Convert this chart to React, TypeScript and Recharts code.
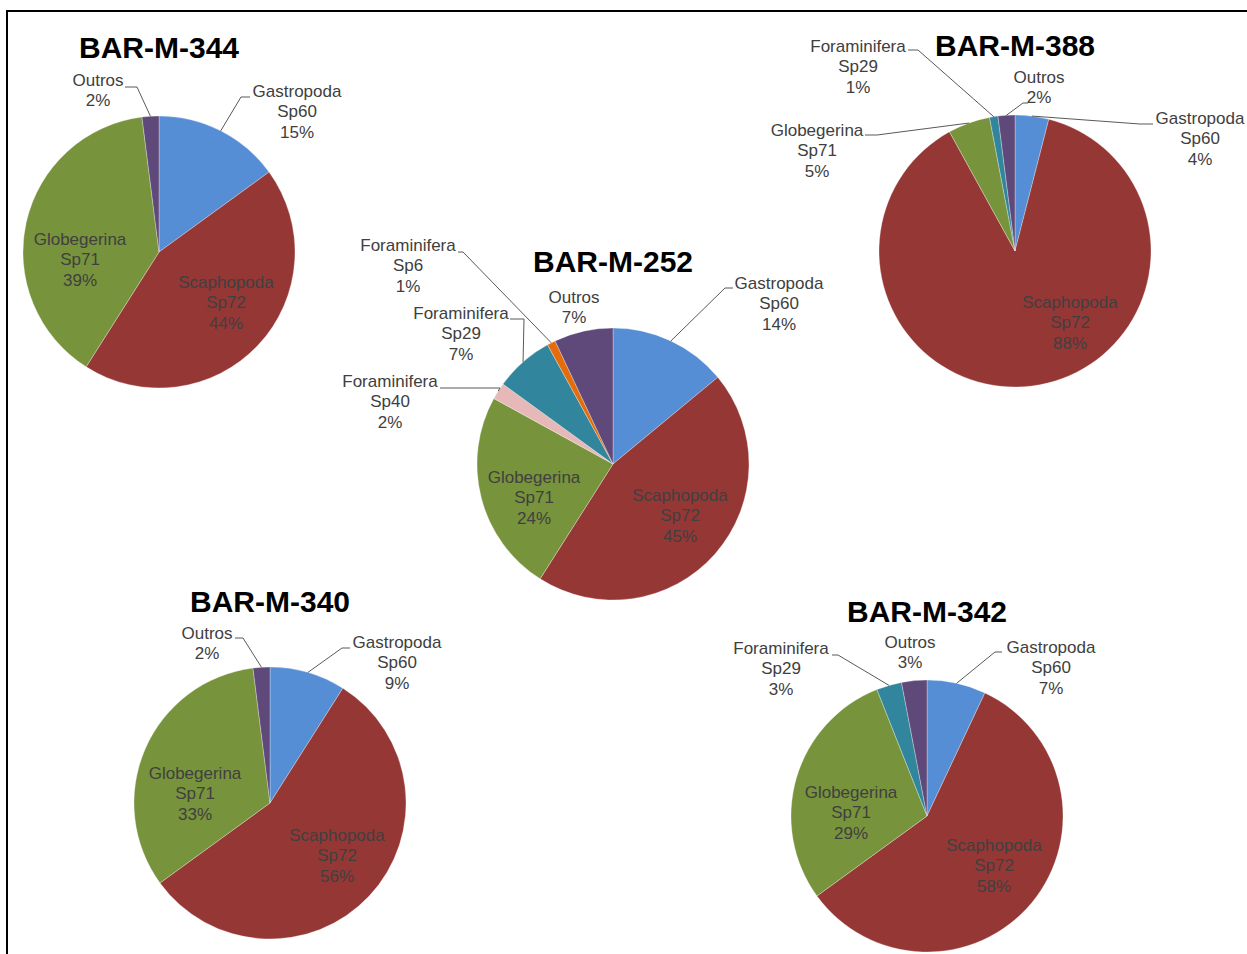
import { PieChart, Pie, Cell } from 'recharts';

// Taxa shared by every station, in clockwise order from 12 o'clock
const taxa = ['Gastropoda', 'Scaphopoda', 'Globegerina', 'Foraminifera', 'Foraminifera', 'Foraminifera', 'Outros'];
const species = ['Sp60', 'Sp72', 'Sp71', 'Sp40', 'Sp29', 'Sp6', ''];
const taxonColors = ['#558ED5', '#953735', '#77933C', '#E6B9B8', '#31859C', '#E46C0A', '#5F497A'];

// Percent composition per station (0 = taxon absent)
const m344 = [15, 44, 39, 0, 0, 0, 2];
const m252 = [14, 45, 24, 2, 7, 1, 7];
const m388 = [4, 88, 5, 0, 1, 0, 2];
const m340 = [9, 56, 33, 0, 0, 0, 2];
const m342 = [7, 58, 29, 0, 3, 0, 3];

const stations = ['BAR-M-344', 'BAR-M-252', 'BAR-M-388', 'BAR-M-340', 'BAR-M-342'];

type Spot = { x: number; y: number; lead?: [number, number][] };

// label block offsets from the pie centre; lead = leader line points before it hits the slice
const spots344: Record<number, Spot> = {
  0: { x: 138, y: -161, lead: [[91, -155], [82, -155]] },
  1: { x: 67, y: 30 },
  2: { x: -79, y: -13 },
  6: { x: -61, y: -172, lead: [[-34, -165], [-22, -165]] },
};
const spots252: Record<number, Spot> = {
  0: { x: 166, y: -181, lead: [[120, -176], [112, -176]] },
  1: { x: 67, y: 31 },
  2: { x: -79, y: 13 },
  3: { x: -223, y: -83, lead: [[-173, -76], [-113, -76]] },
  4: { x: -152, y: -151, lead: [[-103, -145], [-89, -145]] },
  5: { x: -205, y: -219, lead: [[-155, -212], [-150, -212]] },
  6: { x: -39, y: -167 },
};
const spots388: Record<number, Spot> = {
  0: { x: 185, y: -133, lead: [[138, -127], [125, -127]] },
  1: { x: 55, y: 51 },
  2: { x: -198, y: -121, lead: [[-150, -116], [-138, -116]] },
  4: { x: -157, y: -205, lead: [[-107, -201], [-97, -201]] },
  6: { x: 24, y: -174, lead: [[13, -148], [8, -148]] },
};
const spots340: Record<number, Spot> = {
  0: { x: 127, y: -161, lead: [[80, -155], [72, -155]] },
  1: { x: 67, y: 32 },
  2: { x: -75, y: -30 },
  6: { x: -63, y: -170, lead: [[-35, -165], [-27, -165]] },
};
const spots342: Record<number, Spot> = {
  0: { x: 124, y: -169, lead: [[75, -164], [68, -164]] },
  1: { x: 67, y: 29 },
  2: { x: -76, y: -24 },
  4: { x: -146, y: -168, lead: [[-95, -161], [-89, -161]] },
  6: { x: -17, y: -174 },
};

const FONT = '"Liberation Sans", Arial, sans-serif';
const RAD = Math.PI / 180;

const toRows = (values: number[]) =>
  values
    .map((value, i) => ({ name: taxa[i], species: species[i], value, taxon: i }))
    .filter((d) => d.value > 0);

function makeLabel(spots: Record<number, Spot>) {
  return (props: any) => {
    const { cx, cy, midAngle, outerRadius } = props;
    const entry = props.payload && props.payload.taxon !== undefined ? props.payload : props;
    const spot = spots[entry.taxon];
    if (!spot) return null;
    const tx = cx + spot.x;
    const ty = cy + spot.y + 5.5;
    const lines = [entry.name, entry.species, `${entry.value}%`].filter(Boolean);
    let leader = null;
    if (spot.lead) {
      const ax = cx + outerRadius * Math.cos(-midAngle * RAD);
      const ay = cy + outerRadius * Math.sin(-midAngle * RAD);
      const pts = [...spot.lead.map(([px, py]) => `${cx + px},${cy + py}`), `${ax},${ay}`].join(' ');
      leader = <polyline points={pts} fill="none" stroke="#595959" strokeWidth={1} />;
    }
    return (
      <g>
        {leader}
        <text x={tx} y={ty} textAnchor="middle" fontSize={17} fontFamily={FONT} fill="#404040">
          {lines.map((l: string, i: number) => (
            <tspan key={i} x={tx} dy={i === 0 ? 0 : 20.6}>
              {l}
            </tspan>
          ))}
        </text>
      </g>
    );
  };
}

const pies = [
  { rows: toRows(m344), spots: spots344, cx: 159, cy: 252, titleY: 48 },
  { rows: toRows(m252), spots: spots252, cx: 613, cy: 464, titleY: 262 },
  { rows: toRows(m388), spots: spots388, cx: 1015, cy: 251, titleY: 46 },
  { rows: toRows(m340), spots: spots340, cx: 270, cy: 803, titleY: 602 },
  { rows: toRows(m342), spots: spots342, cx: 927, cy: 816, titleY: 612 },
];

export default function App() {
  return (
    <div
      style={{
        position: 'absolute',
        left: 0,
        top: 0,
        width: 1247,
        height: 954,
        background: '#fff',
        overflow: 'hidden',
      }}
    >
      <PieChart width={1247} height={954} margin={{ top: 0, right: 0, bottom: 0, left: 0 }}>
        {pies.map((p, k) => (
          <Pie
            key={stations[k]}
            data={p.rows}
            dataKey="value"
            nameKey="name"
            cx={p.cx}
            cy={p.cy}
            outerRadius={136}
            startAngle={90}
            endAngle={-270}
            stroke="rgba(255,255,255,0.5)"
            strokeWidth={0.6}
            label={makeLabel(p.spots)}
            labelLine={false}
            isAnimationActive={false}
          >
            {p.rows.map((d) => (
              <Cell key={d.taxon} fill={taxonColors[d.taxon]} />
            ))}
          </Pie>
        ))}
      </PieChart>
      {pies.map((p, k) => (
        <div
          key={stations[k]}
          style={{
            position: 'absolute',
            left: p.cx - 150,
            top: p.titleY - 14.7,
            width: 300,
            textAlign: 'center',
            fontFamily: FONT,
            fontWeight: 'bold',
            fontSize: 30,
            lineHeight: '30px',
            color: '#000',
          }}
        >
          {stations[k]}
        </div>
      ))}
      <div
        style={{
          position: 'absolute',
          left: 6,
          top: 10,
          width: 1260,
          height: 960,
          borderLeft: '2px solid #000',
          borderTop: '2px solid #000',
          pointerEvents: 'none',
        }}
      />
    </div>
  );
}
